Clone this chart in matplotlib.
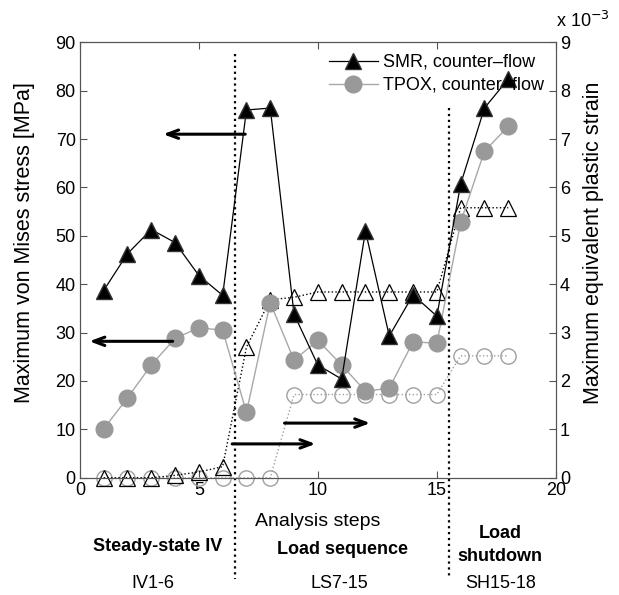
"""Stress / plastic strain history over the analysis steps."""

import matplotlib.pyplot as plt

plt.rcParams["font.family"] = ["Liberation Sans", "DejaVu Sans"]

# Analysis steps
steps = list(range(1, 19))

# Maximum von Mises stress [MPa] (left axis, filled markers)
smr_stress = [38.7, 46.3, 51.3, 48.6, 41.8, 37.7, 76.0, 76.4, 33.8,
              23.3, 20.4, 51.0, 29.3, 37.8, 33.4, 60.7, 76.4, 82.4]
tpox_stress = [10.1, 16.5, 23.3, 28.8, 31.0, 30.5, 13.5, 36.2, 24.3,
               28.4, 23.3, 17.9, 18.5, 28.1, 27.8, 52.8, 67.5, 72.6]

# Maximum equivalent plastic strain [x 1e-3] (right axis, open markers)
smr_strain = [0.0, 0.0, 0.0, 0.05, 0.12, 0.23, 2.7, 3.68, 3.73,
              3.84, 3.84, 3.84, 3.84, 3.84, 3.84, 5.58, 5.58, 5.58]
tpox_strain = [0.0, 0.0, 0.0, 0.0, 0.0, 0.0, 0.0, 0.0, 1.72,
               1.72, 1.72, 1.72, 1.72, 1.72, 1.72, 2.52, 2.52, 2.52]

# Phase boundaries and the phase captions
phase_bounds = [6.5, 15.5]
phase_tops = [87.5, 76.5]
phase_names = ["Steady-state IV", "Load sequence", "Load\nshutdown"]
phase_codes = ["IV1-6", "LS7-15", "SH15-18"]

# Arrows pointing to the axis each group belongs to: (x_start, x_end, y)
arrows = [(6.95, 3.5, 71.0), (3.9, 0.4, 28.2), (6.4, 9.9, 7.0), (8.6, 12.2, 11.3)]

fig, ax = plt.subplots(figsize=(6.19, 5.95), dpi=100)
fig.subplots_adjust(left=0.129, right=0.898, bottom=0.197, top=0.929)
ax2 = ax.twinx()

axis_color = "#555555"

# Right axis: plastic strain (open markers, dotted)
ax2.plot(steps, tpox_strain, linestyle=":", color="#a0a0a0", linewidth=1,
         marker="o", markersize=11, markerfacecolor="none", markeredgecolor="#a0a0a0",
         markeredgewidth=1, clip_on=False, zorder=2)
ax2.plot(steps, smr_strain, linestyle=":", color="black", linewidth=1,
         marker="^", markersize=12, markerfacecolor="none", markeredgecolor="black",
         markeredgewidth=0.9, clip_on=False, zorder=2)

# Left axis: stress (filled markers) drawn on ax2 scale so they sit on top
scale = 0.1
ax2.plot(steps, [v * scale for v in tpox_stress], color="#a8a8a8", linewidth=1,
         marker="o", markersize=12, markerfacecolor="#999999", markeredgecolor="#999999",
         label="TPOX, counter\u2013flow", zorder=3)
ax2.plot(steps, [v * scale for v in smr_stress], color="black", linewidth=0.9,
         marker="^", markersize=12, markerfacecolor="black", markeredgecolor="#333333",
         label="SMR, counter\u2013flow", zorder=4)

# Phase boundaries (extend below the axes)
for xb, top in zip(phase_bounds, phase_tops):
    ax.plot([xb, xb], [top, -21], linestyle=":", color="black", linewidth=1.6,
            clip_on=False, zorder=1)

for x0, x1, y in arrows:
    ax2.annotate("", xy=(x1, y * scale), xytext=(x0, y * scale),
                 arrowprops=dict(arrowstyle="->,head_length=0.8,head_width=0.3",
                                 color="black", lw=2.2, shrinkA=0, shrinkB=0))

ax.set_xlim(0, 20)
ax.set_ylim(0, 90)
ax2.set_ylim(0, 9)
ax.set_xticks([0, 5, 10, 15, 20])
ax.set_yticks(range(0, 91, 10))
ax2.set_yticks(range(0, 10))

ax.tick_params(direction="in", top=True, right=False, length=5, labelsize=13,
               color=axis_color, pad=3)
ax2.tick_params(direction="in", length=5, labelsize=13, color=axis_color, pad=3)
for a in (ax, ax2):
    for s in a.spines.values():
        s.set_color(axis_color)

ax.set_ylabel("Maximum von Mises stress [MPa]", fontsize=15.5)
ax.yaxis.set_label_coords(-0.094, 0.54)
ax2.set_ylabel("Maximum equivalent plastic strain", fontsize=15.5)
ax2.yaxis.set_label_coords(1.057, 0.54)
ax.set_xlabel("Analysis steps", fontsize=14, labelpad=10)
ax2.text(1.0, 1.025, r"x 10$^{-3}$", transform=ax2.transAxes, fontsize=13,
         ha="left", va="bottom")

handles, labels = ax2.get_legend_handles_labels()
ax2.legend(handles[::-1], labels[::-1], loc="upper right", frameon=False, fontsize=13,
           handlelength=2.7, handletextpad=0.3, borderaxespad=0.25, labelspacing=0.33)

# Phase captions under the axis
name_x = [0.254, 0.553, 0.808]
name_y = [0.081, 0.077, 0.084]
code_x = [0.247, 0.549, 0.808]
for name, code, nx, ny, cx in zip(phase_names, phase_codes, name_x, name_y, code_x):
    fig.text(nx, ny, name, fontsize=13, fontweight="bold", ha="center", va="center",
             linespacing=1.4)
    fig.text(cx, 0.020, code, fontsize=13, ha="center", va="center")

fig.savefig("out.png", dpi=100, facecolor="white")
